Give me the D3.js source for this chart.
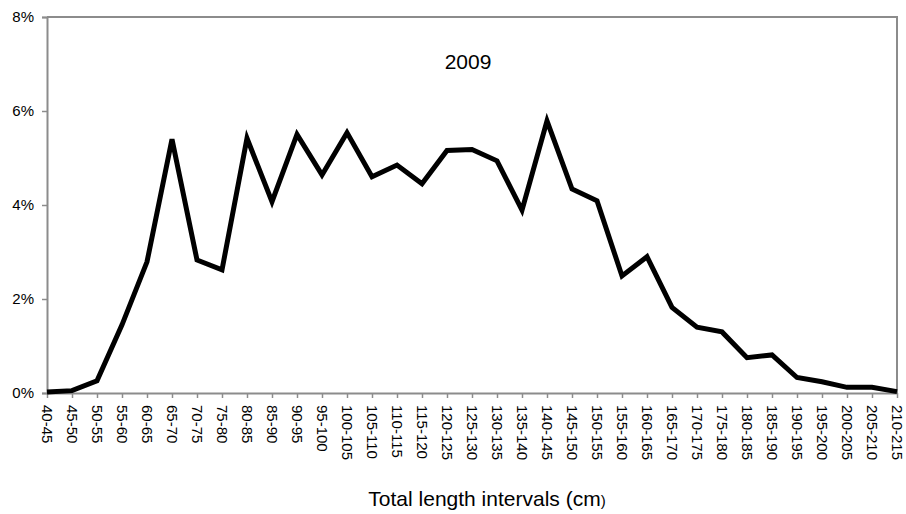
<!DOCTYPE html>
<html>
<head>
<meta charset="utf-8">
<script src="https://cdn.jsdelivr.net/npm/d3@7"></script>
<style>
  body { margin: 0; background: #fff; }
  text { font-family: "Liberation Sans", Arial, sans-serif; fill: #000; }
</style>
</head>
<body>
<div id="chart"></div>
<script>
// length classes (cm)
const categories = ["40-45","45-50","50-55","55-60","60-65","65-70","70-75","75-80","80-85","85-90",
  "90-95","95-100","100-105","105-110","110-115","115-120","120-125","125-130","130-135","135-140",
  "140-145","145-150","150-155","155-160","160-165","165-170","170-175","175-180","180-185","185-190",
  "190-195","195-200","200-205","205-210","210-215"];

// percent of fish in each class, 2009
const values2009 = [0.02, 0.05, 0.26, 1.45, 2.79, 5.40, 2.83, 2.62, 5.42, 4.07,
  5.50, 4.64, 5.54, 4.60, 4.85, 4.45, 5.16, 5.18, 4.94, 3.89,
  5.79, 4.34, 4.09, 2.49, 2.90, 1.82, 1.40, 1.30, 0.75, 0.81,
  0.33, 0.24, 0.12, 0.12, 0.03];

const yTicks = [0, 2, 4, 6, 8];

const W = 906, H = 514;
const margin = { top: 17, right: 9, bottom: 121, left: 47 };
const innerW = W - margin.left - margin.right;
const innerH = H - margin.top - margin.bottom;
const axisColor = "#8c8c8c";

const svg = d3.select("#chart").append("svg")
  .attr("width", W)
  .attr("height", H);

const g = svg.append("g")
  .attr("transform", `translate(${margin.left},${margin.top})`);

const x = d3.scalePoint()
  .domain(categories)
  .range([0, innerW]);

const y = d3.scaleLinear()
  .domain([0, 8])
  .range([innerH, 0]);

// plot frame (top and right)
g.append("path")
  .attr("d", `M0,0H${innerW}V${innerH}`)
  .attr("fill", "none")
  .attr("stroke", axisColor)
  .attr("stroke-width", 2);

// y axis
const yAxis = g.append("g")
  .call(d3.axisLeft(y).tickValues(yTicks).tickSize(5).tickPadding(8).tickFormat(d => d + "%"));
yAxis.select(".domain").attr("stroke", axisColor).attr("stroke-width", 2);
yAxis.selectAll(".tick line").attr("stroke", axisColor).attr("stroke-width", 1.5);
yAxis.selectAll(".tick text")
  .attr("font-size", "15px")
  .attr("font-family", "'Liberation Sans', Arial, sans-serif");

// x axis
const xAxis = g.append("g")
  .attr("transform", `translate(0,${innerH})`)
  .call(d3.axisBottom(x).tickSize(5).tickSizeOuter(0));
xAxis.select(".domain").attr("stroke", axisColor).attr("stroke-width", 2);
xAxis.selectAll(".tick line").attr("stroke", axisColor).attr("stroke-width", 1.5);
xAxis.selectAll(".tick text")
  .attr("font-size", "15px")
  .attr("font-family", "'Liberation Sans', Arial, sans-serif")
  .attr("transform", "rotate(90)")
  .attr("x", 12)
  .attr("y", 0)
  .attr("dy", "0.35em")
  .attr("text-anchor", "start");

// the line
const line = d3.line()
  .x((d, i) => x(categories[i]))
  .y(d => y(d));

g.append("path")
  .datum(values2009)
  .attr("fill", "none")
  .attr("stroke", "#000")
  .attr("stroke-width", 5)
  .attr("stroke-linejoin", "miter")
  .attr("d", line);

// year label
g.append("text")
  .attr("x", innerW / 2 - 4)
  .attr("y", 52)
  .attr("text-anchor", "middle")
  .attr("font-size", "21px")
  .text("2009");

// x axis title
const title = svg.append("text")
  .attr("x", 487)
  .attr("y", 506)
  .attr("text-anchor", "middle")
  .attr("font-size", "21px");
title.append("tspan").text("Total length intervals (cm");
title.append("tspan").attr("font-size", "15px").text(")");
</script>
</body>
</html>
